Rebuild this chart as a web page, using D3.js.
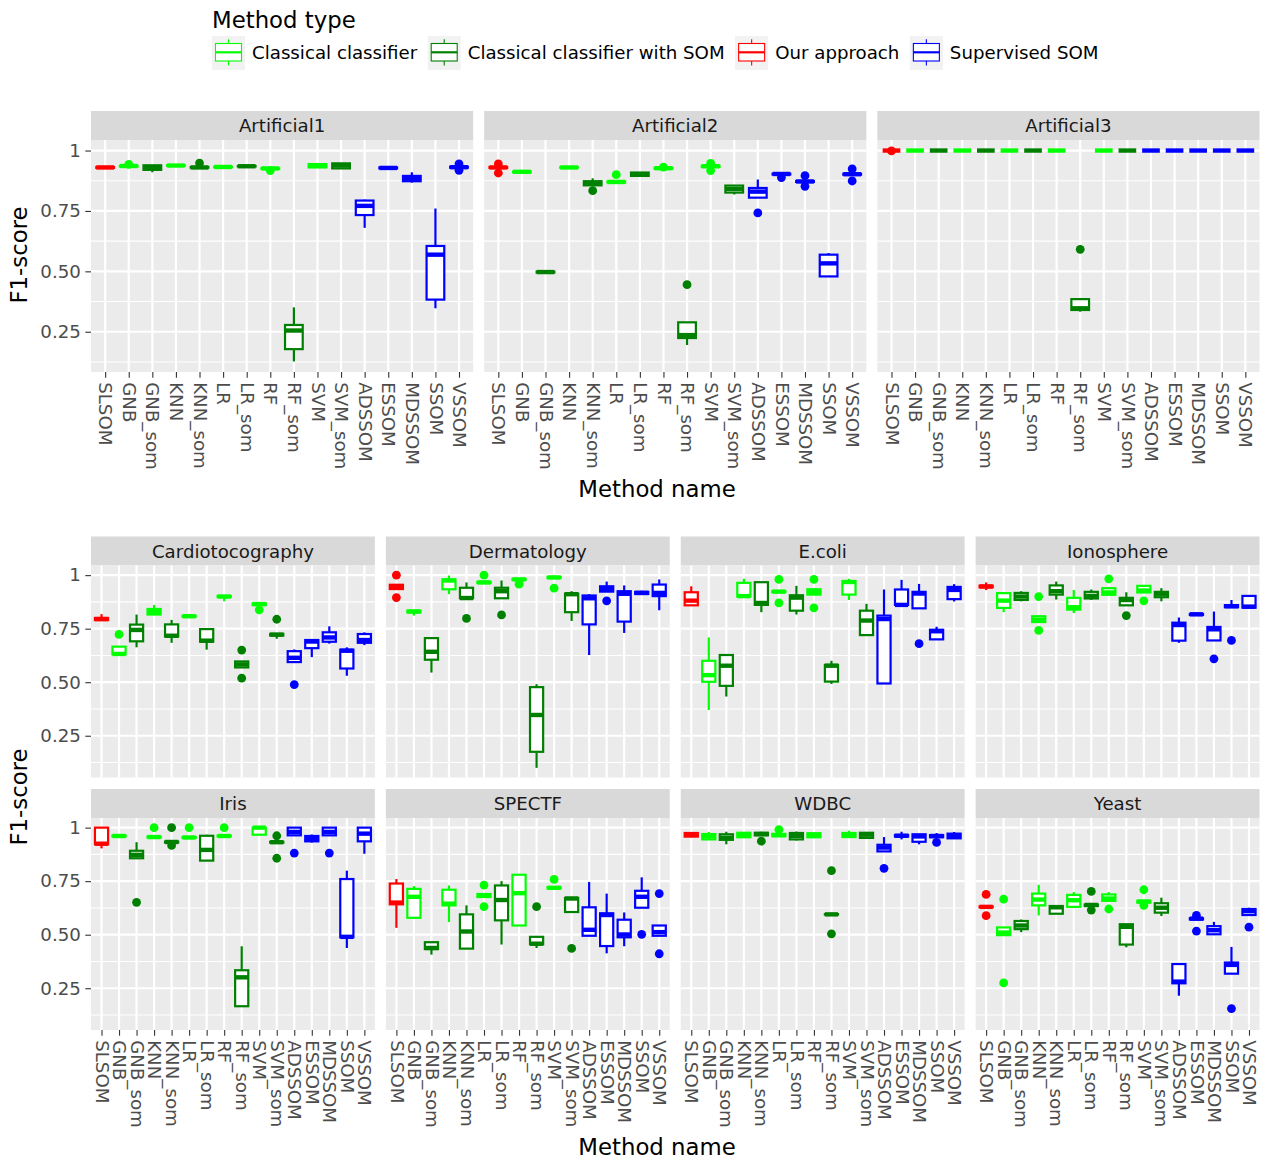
<!DOCTYPE html>
<html><head><meta charset="utf-8">
<script src="https://cdn.jsdelivr.net/npm/d3@7"></script>
<style>body{margin:0;background:#fff;} svg{display:block;font-family:"DejaVu Sans",sans-serif;}</style>
</head><body><svg id="chart" width="1264" height="1163"></svg>
<script>
// ---------- categories ----------
const methods = ["SLSOM","GNB","GNB_som","KNN","KNN_som","LR","LR_som","RF","RF_som","SVM","SVM_som","ADSSOM","ESSOM","MDSSOM","SSOM","VSSOM"];
const methodType = [2,0,1,0,1,0,1,0,1,0,1,3,3,3,3,3];
const typeNames = ["Classical classifier","Classical classifier with SOM","Our approach","Supervised SOM"];
const typeColors = ["#00FF00","#008000","#FF0000","#0000FF"];
const yBreaks = [0.25,0.5,0.75,1];
const yTickLabels = ["0.25","0.50","0.75","1"];
const yMinor = [0.125,0.375,0.625,0.875];
const topDatasets = ["Artificial1","Artificial2","Artificial3"];
const bottomDatasets = ["Cardiotocography","Dermatology","E.coli","Ionosphere","Iris","SPECTF","WDBC","Yeast"];

// ---------- box stats per dataset: [lower whisker, q1, median, q3, upper whisker, [outliers]] ----------
const artificial1 = [
 [0.926,0.928,0.930,0.932,0.934,[]],
 [0.933,0.934,0.936,0.937,0.939,[0.943]],
 [0.910,0.920,0.931,0.939,0.939,[]],
 [0.936,0.937,0.938,0.939,0.940,[]],
 [0.928,0.929,0.930,0.932,0.933,[0.948]],
 [0.930,0.931,0.932,0.933,0.934,[]],
 [0.933,0.934,0.935,0.936,0.937,[]],
 [0.922,0.924,0.926,0.927,0.928,[0.917]],
 [0.127,0.178,0.255,0.278,0.351,[]],
 [0.928,0.930,0.937,0.944,0.946,[]],
 [0.924,0.926,0.938,0.947,0.949,[]],
 [0.680,0.733,0.771,0.793,0.797,[]],
 [0.924,0.926,0.928,0.930,0.932,[]],
 [0.867,0.873,0.884,0.895,0.910,[]],
 [0.347,0.383,0.569,0.605,0.760,[]],
 [0.927,0.929,0.931,0.933,0.935,[0.945,0.918]]
];
const artificial2 = [
 [0.926,0.928,0.930,0.932,0.934,[0.945,0.907]],
 [0.908,0.910,0.912,0.913,0.915,[]],
 [0.494,0.495,0.497,0.499,0.500,[]],
 [0.928,0.929,0.930,0.931,0.932,[]],
 [0.852,0.856,0.866,0.873,0.885,[0.834]],
 [0.866,0.868,0.870,0.872,0.874,[0.900]],
 [0.893,0.895,0.902,0.909,0.911,[]],
 [0.922,0.924,0.927,0.929,0.931,[0.931]],
 [0.195,0.224,0.236,0.289,0.289,[0.445]],
 [0.930,0.932,0.935,0.937,0.939,[0.947,0.917]],
 [0.818,0.826,0.841,0.855,0.857,[]],
 [0.805,0.805,0.830,0.845,0.880,[0.742]],
 [0.900,0.901,0.903,0.904,0.905,[0.888]],
 [0.869,0.870,0.872,0.874,0.876,[0.896,0.852]],
 [0.479,0.479,0.533,0.569,0.576,[]],
 [0.899,0.900,0.902,0.904,0.905,[0.924,0.874]]
];
const artificial3 = [
 [1,1,1,1,1,[0.999]],
 [1,1,1,1,1,[]],
 [1,1,1,1,1,[]],
 [1,1,1,1,1,[]],
 [1,1,1,1,1,[]],
 [1,1,1,1,1,[]],
 [1,1,1,1,1,[]],
 [1,1,1,1,1,[]],
 [0.333,0.340,0.347,0.385,0.385,[0.591]],
 [1,1,1,1,1,[]],
 [1,1,1,1,1,[]],
 [1,1,1,1,1,[]],
 [1,1,1,1,1,[]],
 [1,1,1,1,1,[]],
 [1,1,1,1,1,[]],
 [1,1,1,1,1,[]]
];
const cardiotocography = [
 [0.786,0.790,0.795,0.800,0.818,[]],
 [0.630,0.630,0.632,0.666,0.666,[0.723]],
 [0.663,0.691,0.744,0.769,0.816,[]],
 [0.816,0.816,0.827,0.842,0.861,[]],
 [0.684,0.713,0.717,0.770,0.791,[]],
 [0.804,0.806,0.808,0.810,0.812,[]],
 [0.652,0.689,0.694,0.748,0.753,[]],
 [0.878,0.898,0.900,0.903,0.905,[]],
 [0.569,0.569,0.583,0.597,0.597,[0.650,0.519]],
 [0.855,0.860,0.865,0.868,0.869,[0.838]],
 [0.703,0.718,0.722,0.726,0.728,[0.794]],
 [0.594,0.594,0.614,0.645,0.653,[0.489]],
 [0.617,0.659,0.690,0.697,0.697,[]],
 [0.680,0.689,0.709,0.733,0.761,[]],
 [0.530,0.564,0.647,0.652,0.663,[]],
 [0.673,0.684,0.697,0.725,0.733,[]]
];
const dermatology = [
 [0.933,0.935,0.944,0.955,0.955,[1.0,0.895]],
 [0.811,0.826,0.830,0.834,0.836,[]],
 [0.545,0.605,0.642,0.706,0.706,[]],
 [0.911,0.934,0.975,0.980,0.998,[]],
 [0.892,0.892,0.893,0.941,0.966,[0.798]],
 [0.960,0.963,0.966,0.969,0.970,[1.0]],
 [0.892,0.892,0.925,0.941,0.975,[0.814]],
 [0.975,0.978,0.980,0.982,0.984,[0.958]],
 [0.100,0.175,0.347,0.477,0.491,[]],
 [0.985,0.987,0.989,0.992,0.994,[0.939]],
 [0.786,0.827,0.911,0.914,0.925,[]],
 [0.627,0.770,0.892,0.905,0.911,[]],
 [0.923,0.923,0.936,0.948,0.970,[0.880]],
 [0.730,0.783,0.913,0.925,0.952,[]],
 [0.908,0.912,0.917,0.922,0.927,[]],
 [0.836,0.902,0.917,0.956,0.980,[]]
];
const ecoli = [
 [0.859,0.859,0.881,0.920,0.948,[]],
 [0.370,0.502,0.533,0.600,0.709,[]],
 [0.433,0.483,0.577,0.627,0.627,[]],
 [0.900,0.900,0.902,0.964,0.983,[]],
 [0.827,0.861,0.870,0.967,0.967,[]],
 [0.921,0.921,0.923,0.925,0.925,[0.980,0.870]],
 [0.816,0.834,0.895,0.906,0.950,[]],
 [0.909,0.909,0.922,0.934,0.934,[0.980,0.847]],
 [0.492,0.503,0.577,0.581,0.600,[]],
 [0.884,0.909,0.968,0.972,0.983,[]],
 [0.720,0.720,0.788,0.834,0.866,[]],
 [0.494,0.494,0.795,0.811,0.933,[]],
 [0.855,0.861,0.861,0.933,0.978,[]],
 [0.845,0.845,0.914,0.922,0.959,[0.680]],
 [0.700,0.700,0.738,0.745,0.759,[]],
 [0.877,0.888,0.931,0.945,0.958,[]]
];
const ionosphere = [
 [0.930,0.943,0.947,0.951,0.966,[]],
 [0.827,0.847,0.881,0.916,0.916,[]],
 [0.878,0.884,0.900,0.917,0.925,[]],
 [0.781,0.781,0.792,0.808,0.808,[0.900,0.742]],
 [0.886,0.909,0.925,0.952,0.970,[]],
 [0.823,0.839,0.850,0.894,0.931,[]],
 [0.884,0.891,0.903,0.922,0.933,[]],
 [0.908,0.908,0.919,0.939,0.939,[0.983]],
 [0.859,0.859,0.884,0.894,0.920,[0.811]],
 [0.919,0.919,0.928,0.950,0.950,[0.880]],
 [0.878,0.897,0.913,0.922,0.939,[]],
 [0.684,0.694,0.767,0.778,0.802,[]],
 [0.812,0.814,0.817,0.819,0.827,[]],
 [0.695,0.695,0.747,0.758,0.830,[0.609]],
 [0.847,0.850,0.855,0.860,0.884,[0.695]],
 [0.848,0.848,0.853,0.903,0.906,[]]
];
const iris = [
 [0.903,0.922,0.925,1.0,1.0,[]],
 [0.958,0.959,0.961,0.963,0.964,[]],
 [0.857,0.857,0.873,0.892,0.932,[0.651]],
 [0.953,0.954,0.956,0.958,0.960,[1.0]],
 [0.928,0.930,0.933,0.935,0.937,[1.0,0.917]],
 [0.951,0.952,0.954,0.956,0.958,[1.0]],
 [0.846,0.846,0.896,0.962,0.967,[]],
 [0.958,0.959,0.961,0.963,0.964,[1.0]],
 [0.166,0.166,0.301,0.334,0.446,[]],
 [0.967,0.967,1.0,1.0,1.0,[]],
 [0.930,0.930,0.932,0.934,0.936,[0.962,0.857]],
 [0.964,0.964,0.980,1.0,1.0,[0.881]],
 [0.930,0.936,0.948,0.961,0.968,[]],
 [0.964,0.964,0.980,1.0,1.0,[0.881]],
 [0.438,0.488,0.490,0.760,0.799,[]],
 [0.878,0.936,0.972,1.0,1.0,[]]
];
const spectf = [
 [0.532,0.642,0.650,0.739,0.760,[]],
 [0.579,0.579,0.677,0.714,0.727,[]],
 [0.407,0.433,0.438,0.465,0.465,[]],
 [0.559,0.637,0.645,0.710,0.730,[]],
 [0.435,0.435,0.515,0.595,0.637,[]],
 [0.673,0.676,0.683,0.690,0.693,[0.732,0.631]],
 [0.454,0.567,0.662,0.730,0.750,[]],
 [0.543,0.543,0.694,0.780,0.780,[]],
 [0.438,0.455,0.458,0.490,0.490,[0.631]],
 [0.713,0.716,0.719,0.722,0.725,[0.758]],
 [0.606,0.606,0.669,0.672,0.672,[0.436]],
 [0.495,0.495,0.523,0.628,0.746,[]],
 [0.413,0.447,0.592,0.600,0.692,[]],
 [0.446,0.488,0.501,0.570,0.604,[]],
 [0.626,0.626,0.677,0.705,0.768,[0.502]],
 [0.495,0.495,0.512,0.543,0.543,[0.692,0.411]]
];
const wdbc = [
 [0.955,0.958,0.967,0.975,0.978,[]],
 [0.942,0.945,0.959,0.970,0.980,[]],
 [0.922,0.943,0.953,0.969,0.981,[]],
 [0.953,0.955,0.965,0.976,0.978,[]],
 [0.964,0.964,0.970,0.976,0.981,[0.937]],
 [0.959,0.960,0.965,0.971,0.972,[0.991]],
 [0.940,0.945,0.961,0.975,0.982,[]],
 [0.953,0.955,0.965,0.974,0.976,[]],
 [0.593,0.594,0.595,0.596,0.597,[0.799,0.504]],
 [0.954,0.956,0.965,0.975,0.986,[]],
 [0.950,0.952,0.967,0.976,0.978,[]],
 [0.889,0.889,0.907,0.920,0.956,[0.810]],
 [0.945,0.958,0.962,0.966,0.981,[]],
 [0.922,0.934,0.959,0.969,0.969,[]],
 [0.950,0.955,0.961,0.965,0.975,[0.931]],
 [0.947,0.950,0.961,0.972,0.980,[]]
];
const yeast = [
 [0.627,0.628,0.630,0.632,0.633,[0.688,0.589]],
 [0.498,0.498,0.510,0.534,0.534,[0.666,0.275]],
 [0.512,0.526,0.543,0.564,0.571,[]],
 [0.590,0.637,0.664,0.692,0.733,[]],
 [0.598,0.598,0.628,0.634,0.637,[]],
 [0.630,0.630,0.661,0.686,0.699,[]],
 [0.630,0.634,0.639,0.641,0.643,[0.702,0.615]],
 [0.658,0.658,0.669,0.688,0.699,[0.620]],
 [0.441,0.454,0.537,0.549,0.549,[]],
 [0.645,0.650,0.655,0.658,0.660,[0.710,0.637]],
 [0.587,0.603,0.626,0.647,0.673,[]],
 [0.215,0.273,0.281,0.363,0.367,[]],
 [0.568,0.571,0.575,0.577,0.579,[0.590,0.517]],
 [0.502,0.502,0.521,0.540,0.560,[]],
 [0.318,0.318,0.359,0.370,0.443,[0.155]],
 [0.592,0.592,0.610,0.620,0.626,[0.535]]
];
const topValues = [artificial1, artificial2, artificial3];
const bottomValues = [cardiotocography, dermatology, ecoli, ionosphere, iris, spectf, wdbc, yeast];

// ---------- drawing ----------
const svg = d3.select("#chart");
const L = 91, R = 1259.5, GAP = 11, STRIP = 29;
const TICK = 5.7, TPAD = 4.5;
const SMALL = 18.2, BIG = 22.8;
const LW = 2.2;

function section(names, datas, cols, stripTops, panelH) {
  const rows = stripTops.length;
  const w = (R - L - GAP * (cols - 1)) / cols;
  const all = datas.flatMap(d => d.flatMap(b => [b[0], b[4], ...b[5]]));
  const lo = d3.min(all), hi = d3.max(all), rg = hi - lo;
  const y = d3.scaleLinear().domain([lo - 0.05 * rg, hi + 0.05 * rg]).range([panelH, 0]);
  const x = d3.scalePoint().domain(methods).range([0, w]).padding(0.6);
  const bw = x.step() * 0.75;
  const [d0, d1] = y.domain();

  names.forEach((name, i) => {
    const row = Math.floor(i / cols), col = i % cols;
    const px = L + col * (w + GAP), sy = stripTops[row], py = sy + STRIP;
    // strip
    svg.append("rect").attr("x", px).attr("y", sy).attr("width", w).attr("height", STRIP).attr("fill", "#D9D9D9");
    svg.append("text").attr("x", px + w / 2).attr("y", sy + STRIP / 2).attr("dy", "0.36em")
      .attr("text-anchor", "middle").attr("font-size", SMALL).attr("fill", "#1A1A1A").text(name);

    const g = svg.append("g").attr("transform", `translate(${px},${py})`);
    g.append("rect").attr("width", w).attr("height", panelH).attr("fill", "#EBEBEB");
    g.selectAll(".minor").data(yMinor.filter(v => v > d0 && v < d1)).join("line")
      .attr("x1", 0).attr("x2", w).attr("y1", d => y(d)).attr("y2", d => y(d))
      .attr("stroke", "#fff").attr("stroke-width", LW / 2);
    g.selectAll(".major").data(yBreaks.filter(v => v > d0 && v < d1)).join("line")
      .attr("x1", 0).attr("x2", w).attr("y1", d => y(d)).attr("y2", d => y(d))
      .attr("stroke", "#fff").attr("stroke-width", LW);
    g.selectAll(".vgrid").data(methods).join("line")
      .attr("x1", d => x(d)).attr("x2", d => x(d)).attr("y1", 0).attr("y2", panelH)
      .attr("stroke", "#fff").attr("stroke-width", LW);

    const data = datas[i];
    methods.forEach((m, j) => {
      const b = data[j];
      const c = typeColors[methodType[j]];
      const cx = x(m);
      const bg = g.append("g");
      b[5].forEach(o => {
        bg.append("circle").attr("cx", cx).attr("cy", y(o)).attr("r", 4.4).attr("fill", c);
      });
      bg.append("line").attr("x1", cx).attr("x2", cx).attr("y1", y(b[4])).attr("y2", y(b[3]))
        .attr("stroke", c).attr("stroke-width", LW);
      bg.append("line").attr("x1", cx).attr("x2", cx).attr("y1", y(b[1])).attr("y2", y(b[0]))
        .attr("stroke", c).attr("stroke-width", LW);
      bg.append("rect").attr("x", cx - bw / 2).attr("width", bw)
        .attr("y", y(b[3])).attr("height", Math.max(0, y(b[1]) - y(b[3])))
        .attr("fill", "#fff").attr("stroke", c).attr("stroke-width", LW);
      bg.append("line").attr("x1", cx - bw / 2).attr("x2", cx + bw / 2).attr("y1", y(b[2])).attr("y2", y(b[2]))
        .attr("stroke", c).attr("stroke-width", LW * 2);
    });

    if (row === rows - 1) {
      const ax = g.append("g").attr("transform", `translate(0,${panelH})`)
        .call(d3.axisBottom(x).tickSize(TICK).tickPadding(TPAD));
      ax.select(".domain").remove();
      ax.selectAll(".tick line").attr("stroke", "#333333").attr("stroke-width", LW / 2);
      ax.selectAll(".tick text")
        .attr("y", 0).attr("x", TICK + TPAD).attr("dy", "0.35em")
        .attr("transform", "rotate(90)").attr("text-anchor", "start")
        .attr("font-size", SMALL).attr("font-family", "DejaVu Sans").attr("fill", "#4D4D4D");
    }
    if (col === 0) {
      const ay = g.append("g")
        .call(d3.axisLeft(y).tickValues(yBreaks).tickFormat((d, k) => yTickLabels[k]).tickSize(TICK).tickPadding(TPAD));
      ay.select(".domain").remove();
      ay.selectAll(".tick line").attr("stroke", "#333333").attr("stroke-width", LW / 2);
      ay.selectAll(".tick text").attr("font-size", SMALL).attr("font-family", "DejaVu Sans").attr("fill", "#4D4D4D");
    }
  });
}

section(topDatasets, topValues, 3, [111], 232);
section(bottomDatasets, bottomValues, 4, [536.5, 789], 212);

// axis titles
[[497], [1155]].forEach(([yy]) => {
  svg.append("text").attr("x", 657).attr("y", yy).attr("text-anchor", "middle")
    .attr("font-size", BIG).attr("fill", "#000").text("Method name");
});
[[255], [797]].forEach(([yy]) => {
  svg.append("text").attr("transform", `translate(27,${yy}) rotate(-90)`).attr("text-anchor", "middle")
    .attr("font-size", BIG).attr("fill", "#000").text("F1-score");
});

// legend
const lg = svg.append("g");
lg.append("text").attr("x", 212).attr("y", 28).attr("font-size", BIG).attr("fill", "#000").text("Method type");
let kx = 212;
typeNames.forEach((t, i) => {
  const c = typeColors[i];
  lg.append("rect").attr("x", kx).attr("y", 36).attr("width", 33).attr("height", 34).attr("fill", "#F2F2F2");
  lg.append("line").attr("x1", kx + 16.5).attr("x2", kx + 16.5).attr("y1", 39.3).attr("y2", 65.5)
    .attr("stroke", c).attr("stroke-width", LW / 2);
  lg.append("rect").attr("x", kx + 3.5).attr("y", 43.5).attr("width", 26).attr("height", 17.5)
    .attr("fill", "#fff").attr("stroke", c).attr("stroke-width", LW / 2);
  lg.append("line").attr("x1", kx + 3.5).attr("x2", kx + 29.5).attr("y1", 52.3).attr("y2", 52.3)
    .attr("stroke", c).attr("stroke-width", LW);
  const tx = lg.append("text").attr("x", kx + 40).attr("y", 58.5).attr("font-size", SMALL).attr("fill", "#000").text(t);
  kx = kx + 40 + tx.node().getComputedTextLength() + 10.5;
});
</script></body></html>
